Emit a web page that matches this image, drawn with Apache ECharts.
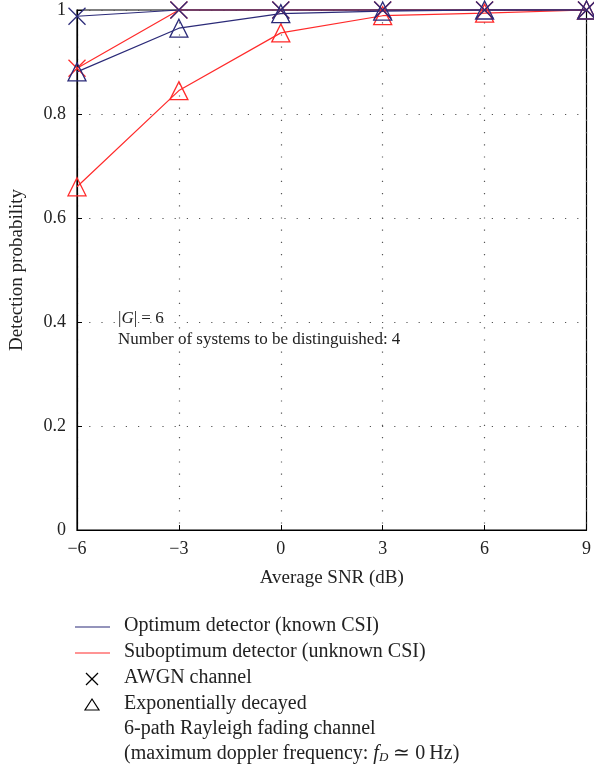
<!DOCTYPE html>
<html><head><meta charset="utf-8">
<script src="https://cdn.jsdelivr.net/npm/echarts@6/dist/echarts.min.js"></script>
<style>html,body{margin:0;padding:0;background:#fff}#c{width:594px;height:771px}</style>
</head><body><div id="c"></div>
<script>
const snr = [-6, -3, 0, 3, 6, 9];
const optAwgn = [0.988, 1.0, 1.0, 1.0, 1.0, 1.0];
const optRay = [0.881, 0.965, 0.993, 0.998, 1.0, 1.0];
const subAwgn = [0.888, 1.0, 1.0, 1.0, 1.0, 1.0];
const subRay = [0.660, 0.845, 0.956, 0.989, 0.994, 1.0];
const xTicks = [-6, -3, 0, 3, 6, 9];
const yTicks = [0, 0.2, 0.4, 0.6, 0.8, 1];

const BLUE = '#2b2a78', RED = '#ff2a2a';
const FONT = 'Liberation Serif';
const TXT = '#222';
const XPATH = 'path://M0,0L10,10M10,0L0,10';
const TRI = 'path://M5,0L10,8.66L0,8.66Z';

function pairs(ys){ return snr.map((x,i)=>[x, ys[i]]); }
function ser(name, ys, color, sym, size){
  return {name, type:'line', data:pairs(ys), symbol:sym, symbolSize:size, clip:false,
    showAllSymbol:true,
    lineStyle:{color, width:1.2},
    itemStyle:{color: sym===XPATH ? color : 'rgba(0,0,0,0)', borderColor:color, borderWidth:1.3},
    emphasis:{disabled:true}, animation:false};
}

const chart = echarts.init(document.getElementById('c'));
const LF = 20;
const legendY = [627, 653, 679, 705, 730, 755];
function ltext(i, text, extra){
  return Object.assign({type:'text', left:124, top:legendY[i]-LF/2-1,
    style:Object.assign({text, fontFamily:FONT, fontSize:LF, fill:TXT}, extra||{})});
}
chart.setOption({
  animation:false,
  grid:{left:77, right:5, top:10, bottom:241, show:true, borderColor:'#000', borderWidth:1.2, backgroundColor:'#fff'},
  xAxis:{type:'value', min:-6, max:9, interval:3,
    name:'Average SNR (dB)', nameLocation:'middle', nameGap:39,
    nameTextStyle:{fontFamily:FONT, fontSize:19, color:TXT},
    axisLine:{show:true, onZero:false, lineStyle:{color:'#000', width:1.2}},
    axisTick:{show:true, inside:true, length:5, lineStyle:{color:'#000'}},
    axisLabel:{fontFamily:FONT, fontSize:18, color:TXT, margin:10,
      formatter:v=> xTicks.includes(v) ? String(v).replace('-', '\u2212') : ''},
    splitLine:{show:true, lineStyle:{color:'#555', type:[1.2,11], width:1.2}}},
  yAxis:{type:'value', min:0, max:1, interval:0.2,
    name:'Detection probability', nameLocation:'middle', nameGap:50,
    nameTextStyle:{fontFamily:FONT, fontSize:19, color:TXT},
    axisLine:{show:true, onZero:false, lineStyle:{color:'#000', width:1.2}},
    axisTick:{show:true, inside:true, length:5, lineStyle:{color:'#000'}},
    axisLabel:{fontFamily:FONT, fontSize:18, color:TXT, margin:11,
      formatter:v=>{ const t = yTicks.find(k=>Math.abs(k-v)<1e-9); return t===undefined?'':String(+t.toFixed(1)); }},
    splitLine:{show:true, lineStyle:{color:'#555', type:[1.2,11], width:1.2}}},
  series:[
    ser('Suboptimum AWGN', subAwgn, RED, XPATH, 17),
    ser('Suboptimum Rayleigh', subRay, RED, TRI, 18),
    ser('Optimum Rayleigh', optRay, BLUE, TRI, 18),
    ser('Optimum AWGN', optAwgn, BLUE, XPATH, 17)
  ],
  graphic:[
    {type:'text', left:118, top:310, style:{text:'|{i|G}| = 6', fontFamily:FONT, fontSize:17, fill:TXT,
      rich:{i:{fontStyle:'italic', fontFamily:FONT, fontSize:17, fill:TXT}}}},
    {type:'text', left:118, top:331, style:{text:'Number of systems to be distinguished: 4', fontFamily:FONT, fontSize:17, fill:TXT}},
    {type:'line', shape:{x1:75, y1:legendY[0], x2:110, y2:legendY[0]}, style:{stroke:BLUE, lineWidth:1.2}},
    {type:'line', shape:{x1:75, y1:legendY[1], x2:110, y2:legendY[1]}, style:{stroke:RED, lineWidth:1.2}},
    {type:'polyline', shape:{points:[[86,673],[98,685]]}, style:{stroke:'#000', lineWidth:1.2, fill:null}},
    {type:'polyline', shape:{points:[[98,673],[86,685]]}, style:{stroke:'#000', lineWidth:1.2, fill:null}},
    {type:'polygon', shape:{points:[[92,699],[99,710],[85,710]]}, style:{stroke:'#000', lineWidth:1.2, fill:'none'}},
    ltext(0, 'Optimum detector (known CSI)'),
    ltext(1, 'Suboptimum detector (unknown CSI)'),
    ltext(2, 'AWGN channel'),
    ltext(3, 'Exponentially decayed'),
    ltext(4, '6-path Rayleigh fading channel'),
    ltext(5, '(maximum doppler frequency: {i|f}{s|D} \u2243 0\u2009Hz)', {
      rich:{i:{fontStyle:'italic', fontFamily:FONT, fontSize:LF, fill:TXT},
            s:{fontStyle:'italic', fontFamily:FONT, fontSize:13, fill:TXT, verticalAlign:'bottom', padding:[7,0,0,0]}}})
  ]
});
</script></body></html>
